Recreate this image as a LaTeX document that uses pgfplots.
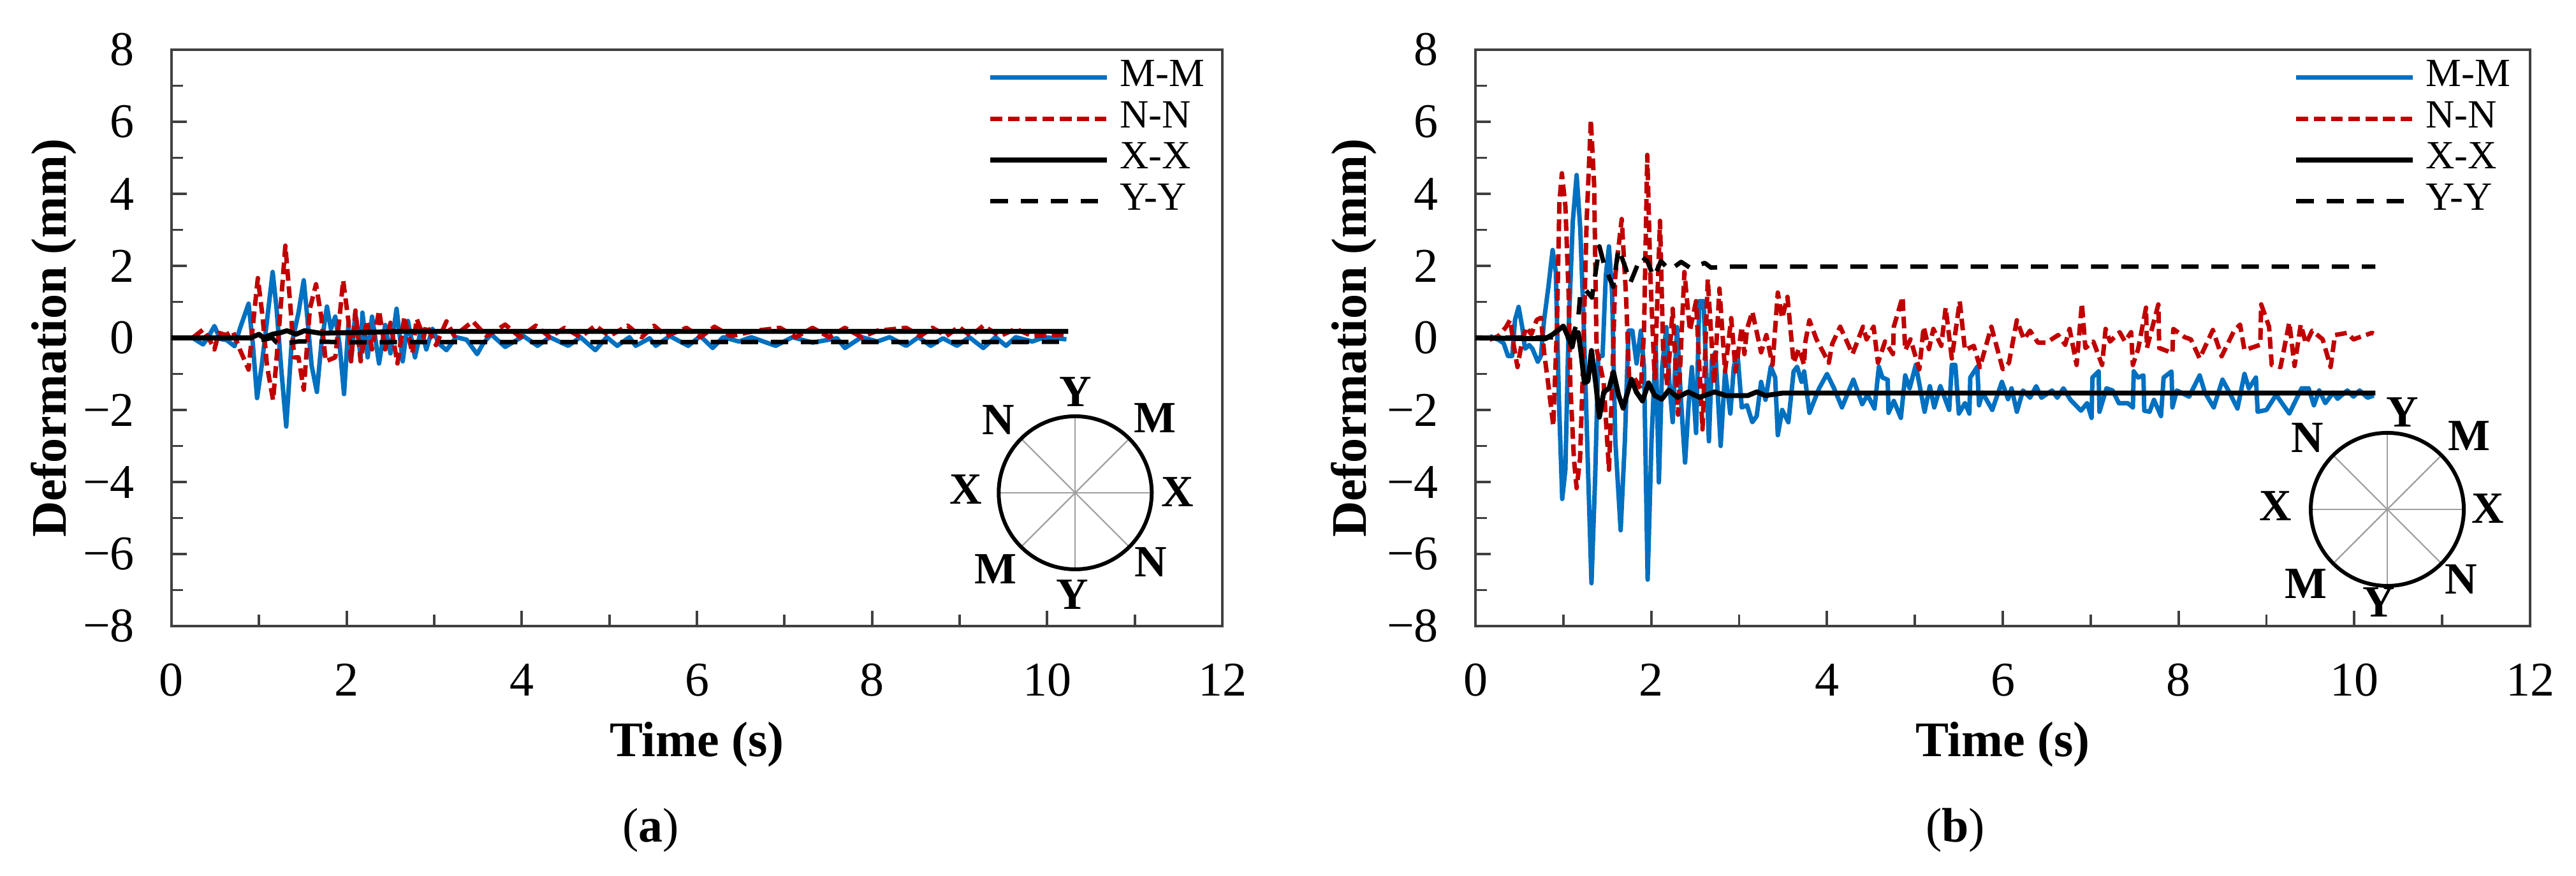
\documentclass[border=0pt]{standalone}
\usepackage{pgfplots}
\pgfplotsset{compat=1.18}
\usepackage{fontspec}
\setmainfont{Liberation Serif}
\usetikzlibrary{calc}
\definecolor{mblue}{HTML}{0070C0}
\definecolor{nred}{HTML}{C00000}
\definecolor{axgray}{HTML}{404040}
\tikzset{
  mm/.style={mblue,line width=1.75pt,solid,line join=round},
  nn/.style={nred,line width=1.75pt,dash pattern=on 4.6pt off 2.2pt,line join=round},
  xx/.style={black,line width=1.95pt,solid,line join=round},
  yy/.style={black,line width=1.75pt,dash pattern=on 6.8pt off 5pt,line join=round},
  dl/.style={font=\fontsize{17.5}{18}\selectfont\bfseries,inner sep=0pt},
  sp/.style={gray!75,line width=0.55pt},
}
\pgfplotsset{common/.style={
  scale only axis, height=226pt, xmin=0,xmax=12,ymin=-8,ymax=8,clip=false,
  axis line style={axgray,line width=1.2pt},
  tick style={axgray,line width=0.95pt},
  major tick length=6pt, minor tick length=4.6pt,
  tick align=inside, xtick pos=bottom, ytick pos=left,
  xtick={0,2,4,6,8,10,12}, minor x tick num=1,
  ytick={-8,-6,-4,-2,0,2,4,6,8}, minor y tick num=1,
  yticklabels={−8,−6,−4,−2,0,2,4,6,8},
  /pgf/number format/assume math mode=true,
  tick label style={font=\fontsize{19}{21}\selectfont},
  xticklabel style={yshift=-11.3pt},
  yticklabel style={xshift=-11pt},
  xlabel={\textbf{Time (s)}}, ylabel={\textbf{Deformation (mm)}},
  label style={font=\fontsize{19.5}{22}\selectfont},
  legend image code/.code={\draw[#1] (0pt,0pt) -- (45.75pt,0pt);},
  legend cell align=left,
  legend style={draw=none,fill=none,font=\fontsize{15.7}{16}\selectfont,
    anchor=north west,inner sep=0pt,outer sep=0pt,
    /tikz/row sep=2.2pt,/tikz/column sep=4pt,
    nodes={inner sep=0pt,text height=10.5pt,text depth=3.5pt}},
}}
\newcommand{\dialcircle}[2]{%
  \coordinate (c) at (axis cs:#1,#2);
  \draw[sp] ($(c)+(0:29.5pt)$) -- ($(c)+(180:29.5pt)$);
  \draw[sp] ($(c)+(45:29.5pt)$) -- ($(c)+(225:29.5pt)$);
  \draw[sp] ($(c)+(90:29.5pt)$) -- ($(c)+(270:29.5pt)$);
  \draw[sp] ($(c)+(135:29.5pt)$) -- ($(c)+(315:29.5pt)$);
  \draw[black,line width=1.5pt] (c) circle (30pt);
}
\begin{document}
\begin{tikzpicture}
\useasboundingbox (-67.25pt,-97.75pt) rectangle ++(1010pt,343.25pt);
%% ---------- panel a
\begin{axis}[common,width=412pt,
  xlabel style={at={(axis description cs:0.5,-0.205)},anchor=center},
  ylabel style={at={(axis description cs:-0.112,0.5)},anchor=center},
  legend style={at={(0.777,0.983)}}]
\addplot[mm] coordinates {(0.24,0)(0.36,-0.18)(0.42,0.02)(0.49,0.33)(0.555,-0.03)(0.63,-0.06)(0.72,-0.23)(0.78,0.25)(0.88,0.95)(0.93,-0.2)(0.977,-1.67)(1.03,-0.77)(1.09,0.47)(1.155,1.83)(1.2,0.81)(1.25,-0.77)(1.31,-2.46)(1.37,-0.2)(1.45,0.7)(1.51,1.6)(1.55,0.59)(1.6,-0.77)(1.66,-1.5)(1.71,-0.2)(1.775,0.87)(1.82,0.25)(1.87,0.59)(1.92,-0.2)(1.97,-1.56)(2.02,0.36)(2.05,-0.65)(2.10,0.7)(2.16,-0.54)(2.18,0.7)(2.24,-0.54)(2.29,0.59)(2.37,-0.71)(2.44,0.36)(2.5,-0.43)(2.57,0.81)(2.64,-0.65)(2.70,0.47)(2.78,-0.54)(2.85,0.25)(2.91,-0.32)(2.98,0.25)(3.05,-0.15)(3.14,-0.34)(3.25,0.02)(3.37,-0.05)(3.49,-0.45)(3.56,-0.15)(3.65,0.1)(3.81,-0.25)(4.02,0.05)(4.18,-0.22)(4.32,0.02)(4.53,-0.22)(4.67,0.02)(4.84,-0.34)(4.97,0.02)(5.09,-0.22)(5.23,0.02)(5.30,-0.22)(5.46,-0.01)(5.53,-0.22)(5.69,0.05)(5.9,-0.22)(6.04,0.05)(6.18,-0.28)(6.30,0.02)(6.48,-0.1)(6.62,0.02)(6.9,-0.22)(7.09,0.02)(7.32,-0.13)(7.6,-0.01)(7.69,-0.28)(7.88,0.02)(8.06,-0.1)(8.2,0.02)(8.39,-0.22)(8.53,0.02)(8.67,-0.22)(8.81,-0.01)(8.97,-0.22)(9.11,0.02)(9.27,-0.28)(9.41,0.02)(9.53,-0.22)(9.64,0.02)(9.83,-0.1)(9.97,0.02)(10.22,-0.04)};
\addlegendentry{M-M}
\addplot[nn] coordinates {(0.25,0.02)(0.36,0.23)(0.42,0.02)(0.49,-0.32)(0.54,0.14)(0.62,0.08)(0.7,0.19)(0.78,-0.32)(0.88,-0.88)(0.93,0.36)(0.986,1.66)(1.04,0.59)(1.09,-0.77)(1.16,-1.73)(1.22,0.02)(1.30,2.56)(1.36,0.81)(1.4,-0.54)(1.45,-0.54)(1.51,-1.44)(1.58,0.81)(1.65,1.49)(1.71,0.59)(1.76,-0.65)(1.87,-0.54)(1.92,0.59)(1.96,1.6)(2.02,0.47)(2.05,-0.65)(2.10,0.76)(2.16,-0.65)(2.23,0.47)(2.29,-0.32)(2.37,0.76)(2.44,-0.32)(2.5,0.42)(2.58,-0.71)(2.66,0.59)(2.75,-0.43)(2.8,0.53)(2.88,0.02)(2.91,0.36)(3.02,-0.2)(3.14,0.46)(3.23,0.05)(3.44,0.46)(3.6,0.05)(3.81,0.37)(3.98,0.02)(4.16,0.34)(4.32,0.02)(4.49,0.28)(4.67,0.02)(4.84,0.34)(5.0,0.05)(5.21,0.34)(5.37,0.02)(5.51,0.34)(5.65,0.05)(5.88,0.28)(6.04,0.02)(6.2,0.31)(6.39,0.05)(6.67,0.2)(6.95,0.28)(7.13,0.02)(7.32,0.28)(7.51,0.02)(7.69,0.28)(7.88,0.02)(8.06,0.2)(8.39,0.28)(8.55,0.05)(8.69,0.28)(8.85,0.05)(8.99,0.31)(9.13,0.05)(9.27,0.34)(9.46,0.05)(9.64,0.25)(9.83,0.05)(10.22,0.1)};
\addlegendentry{N-N}
\addplot[xx] coordinates {(0,0)(0.7,0)(0.9,0)(1.0,0.1)(1.05,0)(1.15,0.1)(1.25,0.15)(1.32,0.2)(1.42,0.1)(1.52,0.2)(1.7,0.13)(1.9,0.14)(2.3,0.16)(2.6,0.18)(10.24,0.18)};
\addlegendentry{X-X}
\addplot[yy] coordinates {(0,0)(0.95,0)(1.05,-0.05)(1.15,0)(1.2,-0.13)(1.3,-0.15)(1.45,-0.1)(1.6,-0.1)(2,-0.12)(10.24,-0.11)};
\addlegendentry{Y-Y}
\dialcircle{10.32}{-4.3}
\node[dl] at ($(c)+(0pt,39.5pt)$) {Y};
\node[dl] at ($(c)+(31.25pt,29.25pt)$) {M};
\node[dl] at ($(c)+(40pt,0.25pt)$) {X};
\node[dl] at ($(c)+(29.5pt,-27.25pt)$) {N};
\node[dl] at ($(c)+(-1.25pt,-40pt)$) {Y};
\node[dl] at ($(c)+(-31.25pt,-30pt)$) {M};
\node[dl] at ($(c)+(-43pt,1.25pt)$) {X};
\node[dl] at ($(c)+(-30.25pt,28.5pt)$) {N};
\node[font=\fontsize{19}{21}\selectfont,inner sep=0pt] at (rel axis cs:0.456,-0.354) {(\textbf{a})};
\end{axis}
%% ---------- panel b
\begin{axis}[common,width=413.5pt,at={(511.25pt,0pt)},
  xlabel style={at={(axis description cs:0.5,-0.205)},anchor=center},
  ylabel style={at={(axis description cs:-0.115,0.5)},anchor=center},
  legend style={at={(0.776,0.983)}}]
\addplot[mm] coordinates {(0.164,0.05)(0.261,-0.05)(0.321,-0.15)(0.37,-0.5)(0.418,-0.5)(0.45,0.5)(0.491,0.86)(0.532,0.3)(0.564,-0.3)(0.612,-0.2)(0.648,-0.3)(0.709,-0.66)(0.745,-0.5)(0.781,0.5)(0.83,1.42)(0.878,2.44)(0.914,1.83)(0.951,-1.83)(0.987,-4.47)(1.023,-3.66)(1.059,0.2)(1.108,3.25)(1.151,4.52)(1.192,3.05)(1.229,0.6)(1.277,-3.35)(1.32,-6.81)(1.362,-3.86)(1.398,-0.5)(1.446,-0.5)(1.483,1.73)(1.519,2.54)(1.555,1.22)(1.591,-2.85)(1.652,-5.34)(1.70,-2.85)(1.741,0.2)(1.785,0.2)(1.833,-0.71)(1.882,0.2)(1.918,-0.81)(1.959,-6.71)(2.003,-2.85)(2.051,-0.2)(2.087,-4.01)(2.124,-0.81)(2.172,0.3)(2.208,-1.32)(2.244,-2.34)(2.293,0.3)(2.341,-1.83)(2.385,-3.46)(2.426,-1.83)(2.462,-0.81)(2.51,-2.64)(2.547,1.02)(2.595,1.02)(2.656,-2.87)(2.69,-0.6)(2.73,-0.4)(2.79,-3.0)(2.84,-0.93)(2.90,-2.1)(2.94,-0.8)(2.98,-0.4)(3.03,-1.93)(3.09,-1.87)(3.15,-2.34)(3.20,-2.17)(3.25,-1.22)(3.30,-1.72)(3.36,-0.8)(3.41,-1.1)(3.44,-2.7)(3.49,-2.0)(3.56,-2.34)(3.62,-0.93)(3.66,-0.8)(3.71,-1.22)(3.74,-0.93)(3.80,-2.08)(3.91,-1.4)(4.0,-1.0)(4.08,-1.4)(4.17,-1.93)(4.30,-1.16)(4.40,-1.84)(4.46,-1.58)(4.54,-1.96)(4.59,-0.8)(4.63,-1.1)(4.69,-1.16)(4.70,-2.08)(4.76,-1.75)(4.84,-2.22)(4.89,-1.04)(4.94,-1.4)(5.01,-0.75)(5.11,-2.05)(5.17,-1.34)(5.22,-1.93)(5.29,-1.34)(5.39,-2.0)(5.42,-0.75)(5.46,-0.75)(5.50,-2.1)(5.57,-1.81)(5.62,-2.1)(5.63,-1.1)(5.71,-0.8)(5.73,-1.87)(5.77,-1.52)(5.88,-2.0)(5.99,-1.22)(6.06,-1.7)(6.10,-1.4)(6.16,-2.05)(6.23,-1.46)(6.31,-1.66)(6.38,-1.34)(6.44,-1.66)(6.56,-1.46)(6.62,-1.66)(6.69,-1.4)(6.77,-1.72)(6.89,-2.02)(6.96,-1.81)(7.01,-2.22)(7.02,-1.1)(7.09,-0.93)(7.10,-2.05)(7.18,-1.4)(7.25,-1.46)(7.32,-1.81)(7.42,-1.81)(7.48,-1.93)(7.49,-0.93)(7.54,-1.1)(7.60,-1.04)(7.61,-2.02)(7.67,-2.05)(7.72,-1.72)(7.80,-2.17)(7.83,-1.1)(7.92,-0.93)(7.93,-1.93)(7.98,-1.46)(8.12,-1.63)(8.24,-1.04)(8.30,-1.52)(8.40,-1.93)(8.50,-1.16)(8.58,-1.52)(8.67,-1.96)(8.75,-1.0)(8.80,-1.4)(8.88,-1.1)(8.90,-2.05)(9.00,-2.0)(9.11,-1.58)(9.26,-2.1)(9.40,-1.4)(9.48,-1.4)(9.54,-1.87)(9.60,-1.46)(9.67,-1.81)(9.76,-1.52)(9.81,-1.69)(9.92,-1.46)(9.99,-1.63)(10.06,-1.46)(10.15,-1.66)(10.22,-1.6)};
\addlegendentry{M-M}
\addplot[nn] coordinates {(0.16,-0.05)(0.26,0.05)(0.347,0.3)(0.394,0.5)(0.442,-0.3)(0.478,-0.81)(0.515,-0.3)(0.575,0.3)(0.636,0.1)(0.697,0.5)(0.745,0.56)(0.781,-0.4)(0.83,-1.32)(0.885,-2.44)(0.926,0.2)(0.955,3.76)(0.983,4.57)(1.023,3.66)(1.06,1.22)(1.08,-1.32)(1.12,-3.35)(1.151,-4.17)(1.19,-3.35)(1.217,-1.32)(1.265,3.25)(1.313,6.05)(1.35,4.27)(1.378,-0.3)(1.458,-1.22)(1.519,-3.66)(1.555,-1.32)(1.591,1.73)(1.664,3.3)(1.712,1.22)(1.749,-1.12)(1.81,-1.12)(1.882,-1.42)(1.918,0.2)(1.955,5.08)(1.99,1.73)(2.039,-1.12)(2.10,3.25)(2.135,-0.3)(2.184,-1.32)(2.244,0.81)(2.305,-2.13)(2.377,1.83)(2.44,0.2)(2.51,1.02)(2.583,-2.54)(2.643,1.63)(2.716,-1.28)(2.776,1.37)(2.84,-0.93)(2.91,0.55)(2.96,-0.93)(3.03,0.31)(3.06,-0.45)(3.09,0.25)(3.15,0.73)(3.25,-0.4)(3.31,0.08)(3.38,-0.75)(3.44,1.26)(3.49,0.55)(3.55,1.14)(3.62,-0.69)(3.68,-0.3)(3.74,-0.75)(3.75,-0.16)(3.80,0.49)(3.88,-0.04)(4.02,-0.69)(4.06,-0.16)(4.15,0.31)(4.29,-0.45)(4.41,0.31)(4.45,-0.04)(4.53,0.31)(4.58,-0.69)(4.66,-0.1)(4.75,-0.45)(4.76,0.31)(4.86,1.14)(4.89,-0.34)(4.95,-0.04)(5.05,-0.87)(5.10,0.31)(5.16,-0.31)(5.21,0.25)(5.30,-0.22)(5.35,0.84)(5.42,-0.57)(5.51,1.02)(5.57,-0.34)(5.67,-0.22)(5.74,-0.81)(5.87,0.31)(6.0,-0.87)(6.07,-0.69)(6.16,0.49)(6.24,-0.04)(6.31,0.2)(6.4,-0.13)(6.5,-0.13)(6.63,0.08)(6.71,-0.19)(6.76,0.25)(6.84,-0.75)(6.90,0.96)(6.94,-0.28)(7.03,-0.1)(7.13,-0.75)(7.17,0.25)(7.22,-0.1)(7.33,0.16)(7.39,-0.1)(7.46,0.16)(7.48,-0.75)(7.54,-0.31)(7.63,0.84)(7.64,-0.28)(7.77,0.93)(7.78,-0.28)(7.93,-0.42)(7.94,0.25)(8.07,0.02)(8.14,-0.04)(8.24,-0.57)(8.39,0.22)(8.49,-0.51)(8.63,0.19)(8.70,0.37)(8.75,-0.34)(8.93,-0.19)(8.94,0.93)(9.03,0.31)(9.06,-0.75)(9.16,-0.81)(9.26,0.43)(9.32,-0.78)(9.39,0.37)(9.45,-0.16)(9.52,0.2)(9.64,-0.04)(9.73,-0.81)(9.78,0.08)(9.92,0.14)(9.99,-0.04)(10.20,0.14)(10.22,0.12)};
\addlegendentry{N-N}
\addplot[xx] coordinates {(0,0)(0.6,-0.02)(0.8,-0.02)(0.88,0.1)(0.96,0.25)(1.0,0.33)(1.05,0.05)(1.10,-0.25)(1.13,0.1)(1.17,0.15)(1.2,-0.4)(1.24,-1.25)(1.28,-1.2)(1.32,-0.35)(1.37,-1.3)(1.41,-2.2)(1.46,-1.5)(1.52,-1.4)(1.57,-0.95)(1.63,-1.6)(1.68,-1.95)(1.72,-1.6)(1.775,-1.15)(1.83,-1.5)(1.9,-1.75)(1.97,-1.25)(2.04,-1.6)(2.12,-1.7)(2.2,-1.45)(2.3,-1.65)(2.42,-1.5)(2.55,-1.65)(2.72,-1.5)(2.85,-1.6)(3.1,-1.6)(3.2,-1.5)(3.3,-1.6)(3.5,-1.53)(10.24,-1.53)};
\addlegendentry{X-X}
\addplot[yy] coordinates {(0,0)(1.1,0.02)(1.168,0.5)(1.192,1.2)(1.24,1.37)(1.325,1.12)(1.362,1.73)(1.41,2.54)(1.47,1.98)(1.567,1.42)(1.627,2.49)(1.71,1.93)(1.76,1.52)(1.82,1.88)(1.882,2.27)(1.955,2.13)(2.03,1.68)(2.11,2.13)(2.21,1.88)(2.34,2.11)(2.44,1.95)(2.61,2.08)(2.68,1.95)(2.9,1.98)(10.24,1.98)};
\addlegendentry{Y-Y}
\dialcircle{10.375}{-4.76}
\node[dl] at ($(c)+(6pt,38pt)$) {Y};
\node[dl] at ($(c)+(32pt,28.75pt)$) {M};
\node[dl] at ($(c)+(39.5pt,0.25pt)$) {X};
\node[dl] at ($(c)+(29pt,-27.5pt)$) {N};
\node[dl] at ($(c)+(-3.25pt,-36.5pt)$) {Y};
\node[dl] at ($(c)+(-32pt,-29.25pt)$) {M};
\node[dl] at ($(c)+(-43.75pt,1.25pt)$) {X};
\node[dl] at ($(c)+(-31.25pt,28pt)$) {N};
\node[font=\fontsize{19}{21}\selectfont,inner sep=0pt] at (rel axis cs:0.455,-0.354) {(\textbf{b})};
\end{axis}
\end{tikzpicture}
\end{document}
